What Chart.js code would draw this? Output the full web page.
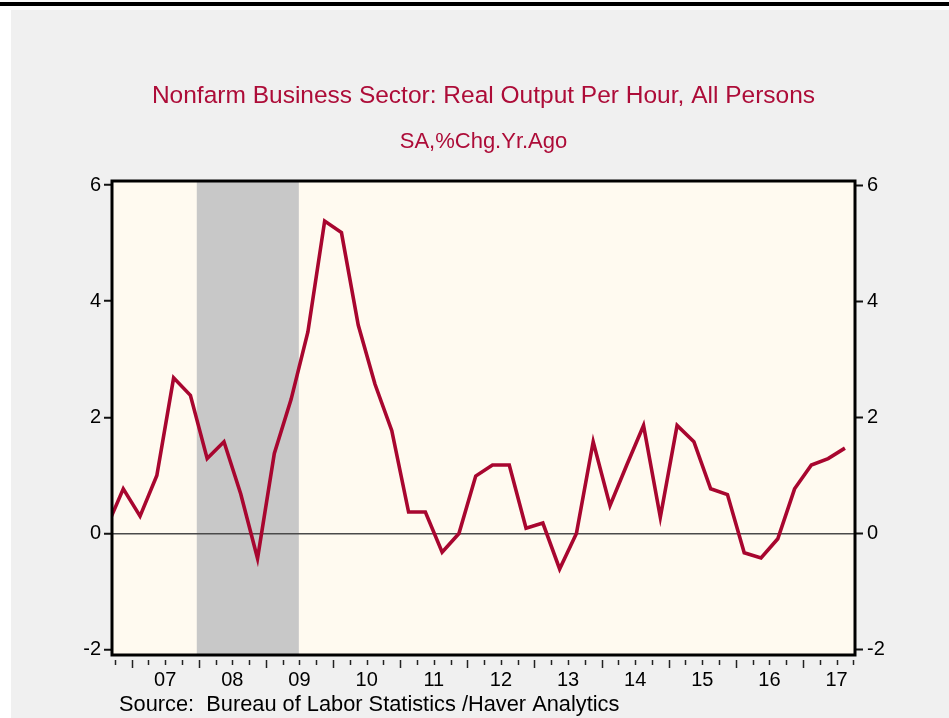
<!DOCTYPE html>
<html>
<head>
<meta charset="utf-8">
<script src="https://cdn.jsdelivr.net/npm/chart.js@4.4.1/dist/chart.umd.min.js"></script>
<style>
  html, body { margin: 0; padding: 0; background: #fff; }
  #wrap { width: 949px; height: 718px; }
</style>
</head>
<body>
<div id="wrap"><canvas id="chart" width="949" height="718"></canvas></div>
<script>
// quarterly, % change from a year ago
const quarters = [
    '2006Q3', '2006Q4',
    '2007Q1', '2007Q2', '2007Q3', '2007Q4',
    '2008Q1', '2008Q2', '2008Q3', '2008Q4',
    '2009Q1', '2009Q2', '2009Q3', '2009Q4',
    '2010Q1', '2010Q2', '2010Q3', '2010Q4',
    '2011Q1', '2011Q2', '2011Q3', '2011Q4',
    '2012Q1', '2012Q2', '2012Q3', '2012Q4',
    '2013Q1', '2013Q2', '2013Q3', '2013Q4',
    '2014Q1', '2014Q2', '2014Q3', '2014Q4',
    '2015Q1', '2015Q2', '2015Q3', '2015Q4',
    '2016Q1', '2016Q2', '2016Q3', '2016Q4',
    '2017Q1', '2017Q2', '2017Q3',
];
const productivity = [
    0.10, 0.77,
    0.30, 1.00, 2.68, 2.38,
    1.29, 1.58, 0.68, -0.43,
    1.38, 2.31, 3.47, 5.38,
    5.18, 3.59, 2.57, 1.77,
    0.37, 0.37, -0.32, 0.00,
    0.99, 1.18, 1.18, 0.09,
    0.18, -0.61, 0.00, 1.58,
    0.48, 1.18, 1.86, 0.28,
    1.86, 1.58, 0.77, 0.67,
    -0.33, -0.42, -0.09, 0.77,
    1.18, 1.29, 1.47,
];
const yearLabels = ['07', '08', '09', '10', '11', '12', '13', '14', '15', '16', '17'];
const firstYear = 2007;
const yTicks = [-2, 0, 2, 4, 6];
const recession = [2007.97, 2009.49]; // Dec 2007 - Jun 2009

const titleText = 'Nonfarm Business Sector: Real Output Per Hour, All Persons';
const subtitleText = 'SA,%Chg.Yr.Ago';
const sourceText = 'Source:  Bureau of Labor Statistics /Haver Analytics';

const FONT = "'Liberation Sans', Arial, sans-serif";
const RED = '#a8062f';

function quarterToX(label) {
    const yr = parseInt(label.slice(0, 4));
    const q = parseInt(label.slice(5));
    return yr + (q - 0.5) / 4;
}

const points = quarters.map((q, i) => ({ x: quarterToX(q), y: productivity[i] }));

const havenFrame = {
    id: 'havenFrame',
    beforeDraw(chart) {
        const { ctx, chartArea: a, scales: { x } } = chart;
        ctx.save();
        ctx.fillStyle = '#ffffff';
        ctx.fillRect(0, 0, chart.width, chart.height);
        ctx.fillStyle = '#f0f0f0';
        ctx.fillRect(11, 10, chart.width - 11, chart.height - 10);
        ctx.fillStyle = '#000';
        ctx.fillRect(0, 2, chart.width, 4);
        // plot background
        ctx.fillStyle = '#fffaf0';
        ctx.fillRect(a.left, a.top, a.right - a.left, a.bottom - a.top);
        // recession shading
        const x0 = x.getPixelForValue(recession[0]);
        const x1 = x.getPixelForValue(recession[1]);
        ctx.fillStyle = '#c8c8c8';
        ctx.fillRect(x0, a.top, x1 - x0, a.bottom - a.top);
        ctx.restore();
    },
    afterDatasetsDraw(chart) {
        const { ctx, chartArea: a, scales: { x } } = chart;
        ctx.save();
        ctx.strokeStyle = '#000';
        ctx.lineWidth = 3;
        ctx.strokeRect(a.left, a.top, a.right - a.left, a.bottom - a.top);

        // quarter ticks under the axis, tall at year starts
        ctx.lineWidth = 1.5;
        ctx.strokeStyle = '#222';
        for (let v = Math.ceil(x.min * 4) / 4; v <= x.max; v += 0.25) {
            const px = Math.round(x.getPixelForValue(v)) + 0.5;
            const isYear = Math.abs(v - Math.round(v)) < 1e-6;
            ctx.beginPath();
            ctx.moveTo(px, a.bottom + 5);
            ctx.lineTo(px, a.bottom + (isYear ? 13 : 10));
            ctx.stroke();
        }

        // titles
        const cx = (a.left + a.right) / 2;
        ctx.fillStyle = '#ad0c38';
        ctx.textAlign = 'center';
        ctx.textBaseline = 'alphabetic';
        ctx.font = '24.5px ' + FONT;
        ctx.fillText(titleText, cx, 103);
        ctx.font = '22px ' + FONT;
        ctx.fillText(subtitleText, cx, 148);

        ctx.fillStyle = '#000';
        ctx.textAlign = 'left';
        ctx.font = '21.8px ' + FONT;
        ctx.fillText(sourceText, 119, 711);
        ctx.restore();
    },
};

new Chart(document.getElementById('chart'), {
    type: 'line',
    data: {
        datasets: [{
            label: 'Real Output Per Hour',
            data: points,
            borderColor: RED,
            borderWidth: 3.6,
            pointRadius: 0,
            tension: 0,
            fill: false,
        }],
    },
    options: {
        responsive: false,
        animation: false,
        layout: { padding: { top: 181, left: 0, right: 0, bottom: 0 } },
        plugins: {
            legend: { display: false },
            tooltip: { enabled: false },
        },
        scales: {
            x: {
                type: 'linear',
                position: 'bottom',
                min: 2006.707,
                max: 2017.775,
                grid: { display: false, drawTicks: false },
                border: { display: false },
                afterBuildTicks: s => {
                    s.ticks = yearLabels.map((_, i) => ({ value: firstYear + i + 0.5 }));
                },
                afterFit: s => { s.height = 63; },
                ticks: {
                    autoSkip: false,
                    maxRotation: 0,
                    padding: 13,
                    color: '#000',
                    font: { family: FONT, size: 20 },
                    callback: (v, i) => yearLabels[i],
                },
            },
            y: {
                position: 'left',
                min: -2.091,
                max: 6.069,
                afterBuildTicks: s => { s.ticks = yTicks.map(v => ({ value: v })); },
                afterFit: s => { s.width = 112; },
                border: { display: false },
                grid: {
                    color: c => (c.tick && c.tick.value === 0 ? '#4a4a4a' : 'rgba(0,0,0,0)'),
                    lineWidth: 1.5,
                    tickColor: '#111',
                    tickLength: 8,
                    tickWidth: 2,
                },
                ticks: {
                    padding: 3,
                    color: '#000',
                    font: { family: FONT, size: 20 },
                },
            },
            y2: {
                position: 'right',
                min: -2.091,
                max: 6.069,
                afterBuildTicks: s => { s.ticks = yTicks.map(v => ({ value: v })); },
                afterFit: s => { s.width = 94; },
                border: { display: false },
                grid: {
                    drawOnChartArea: false,
                    tickColor: '#111',
                    tickLength: 8,
                    tickWidth: 2,
                },
                ticks: {
                    padding: 4,
                    color: '#000',
                    font: { family: FONT, size: 20 },
                },
            },
        },
    },
    plugins: [havenFrame],
});
</script>
</body>
</html>
